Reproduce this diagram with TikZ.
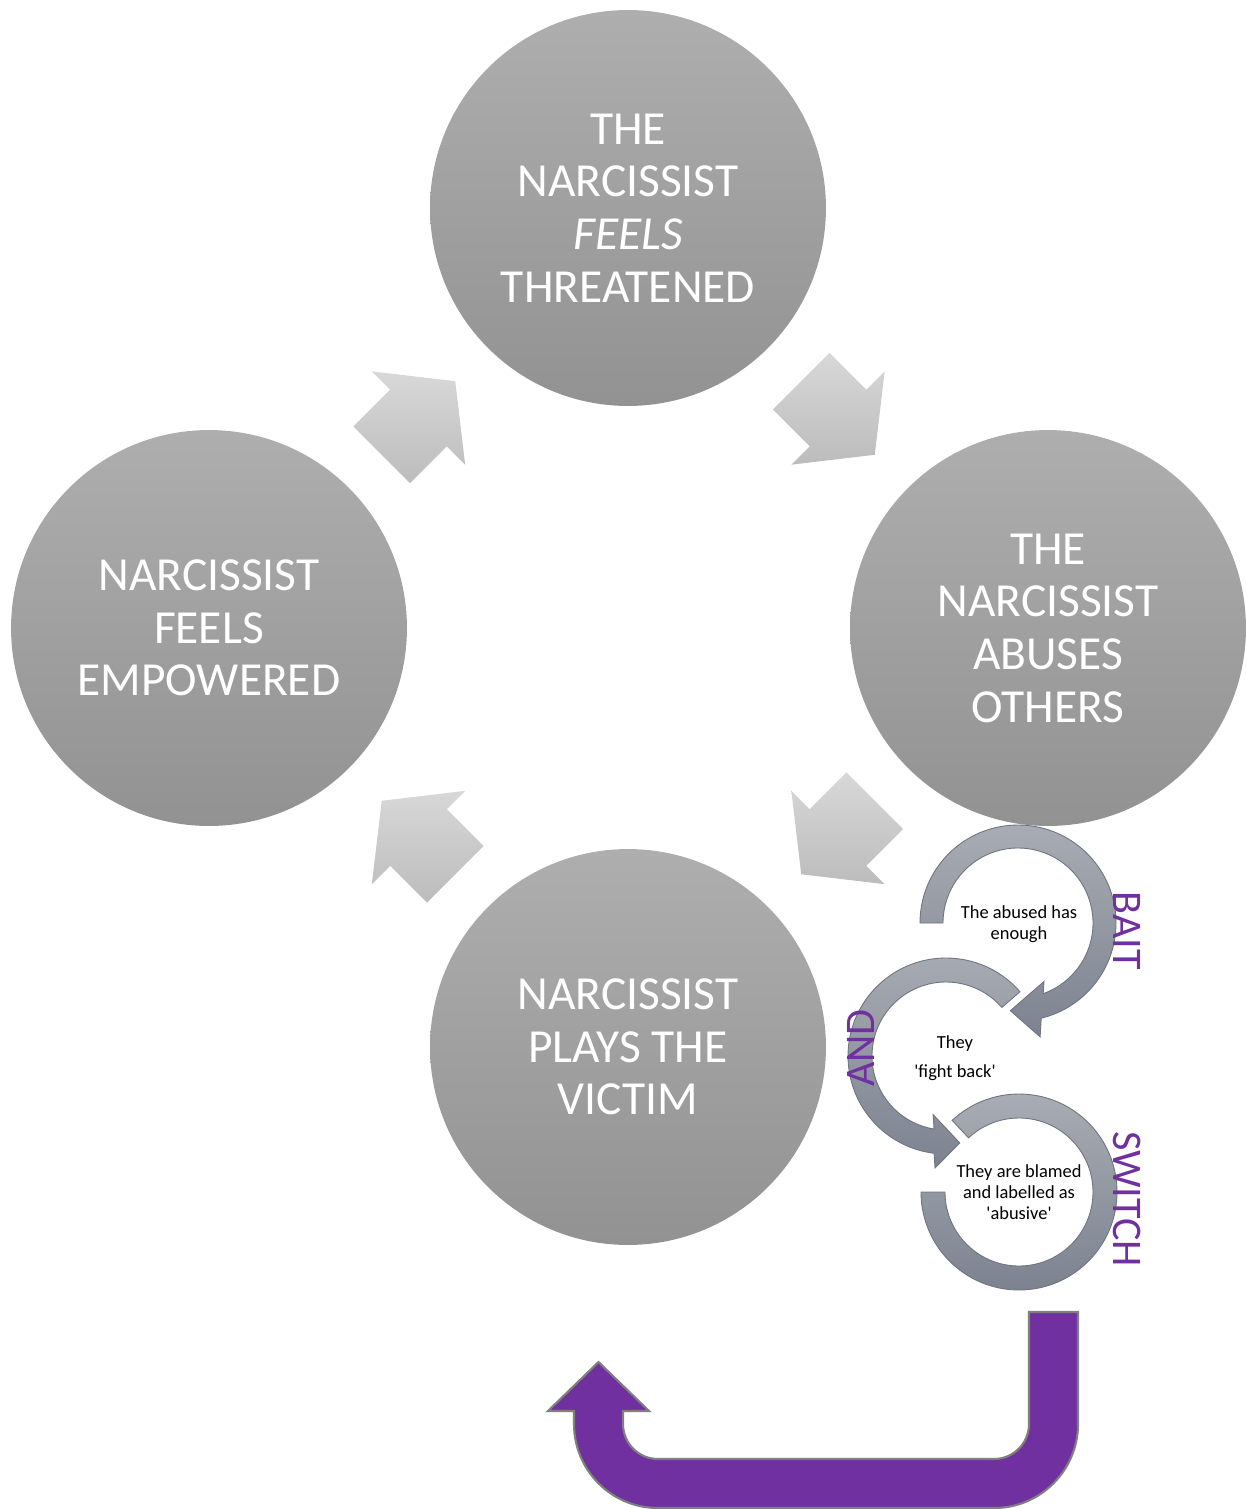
\documentclass[tikz,border=0pt]{standalone}
\usepackage{fontspec}
\setmainfont{Carlito}
\usetikzlibrary{calc}

\definecolor{bubtop}{HTML}{AEAEAE}
\definecolor{bubbot}{HTML}{929292}
\definecolor{flowtop}{HTML}{D8D8D8}
\definecolor{flowbot}{HTML}{BCBCBC}
\definecolor{ringtop}{HTML}{A8ACB3}
\definecolor{ringbot}{HTML}{7C8390}
\definecolor{ringline}{HTML}{6E7580}
\definecolor{tagpurple}{HTML}{7030A0}
\definecolor{uline}{HTML}{7F7F7F}

\begin{document}
\begin{tikzpicture}[x=0.02cm, y=0.02cm,
    bubble/.style={circle, minimum size=7.92cm, inner sep=0pt,
                   top color=bubtop, bottom color=bubbot, text=white,
                   align=center, font=\fontsize{27}{30}\selectfont},
    flowshade/.style={top color=flowtop, bottom color=flowbot},
    flowarr/.pic={
      \path[flowshade] (-52,-40) -- (0,-40) -- (0,-66) -- (52,0)
        -- (0,66) -- (0,40) -- (-52,40) -- cycle;
    },
    ringarr/.style={top color=ringtop, bottom color=ringbot,
                    draw=ringline, line width=0.5pt},
    ringtext/.style={align=center, font=\fontsize{10.5}{12}\selectfont},
    tag/.style={text=tagpurple, inner sep=0pt,
                font=\fontsize{24}{24}\selectfont},
    uturn/.style={fill=tagpurple, draw=uline, line width=1.2pt},
  ]
  \useasboundingbox (0,0) rectangle (1247,-1509);

  % the four stages
  \node[bubble] (threat) at (628,-208)
    {THE\\NARCISSIST\\\textit{FEELS}\\THREATENED};
  \node[bubble] (abuse) at (1048,-628)
    {THE\\NARCISSIST\\ABUSES\\OTHERS};
  \node[bubble] (victim) at (628,-1047)
    {NARCISSIST\\PLAYS THE\\VICTIM};
  \node[bubble] (empower) at (209,-628)
    {NARCISSIST\\FEELS\\EMPOWERED};

  % arrows between them
  \pic[rotate=-45] at ($(threat)!0.5!(abuse)$) {flowarr};
  \pic[rotate=-135] at ($(abuse)!0.5!(victim)$) {flowarr};
  \pic[rotate=135] at ($(victim)!0.5!(empower)$) {flowarr};
  \pic[rotate=45] at ($(empower)!0.5!(threat)$) {flowarr};

  % bait and switch rings
  \coordinate (r1) at (1018,-923);
  \coordinate (r2) at (946,-1056);
  \coordinate (r3) at (1019,-1192);
  \path[ringarr] ($(r1)+(180:98)$) arc[start angle=180, end angle=-76.3, radius=98]
    -- ($(r1)+(-79:116)$) -- ($(r1)+(-95:88)$) -- ($(r1)+(-66:64)$)
    -- ($(r1)+(-70.4:75)$) arc[start angle=-70.4, end angle=180, radius=75] -- cycle;
  \path[ringarr] ($(r2)+(41:98)$) arc[start angle=41, end angle=263, radius=98]
    -- ($(r2)+(264.4:112.5)$) -- ($(r2)+(279:88)$) -- ($(r2)+(257.6:60)$)
    -- ($(r2)+(260.7:74)$) arc[start angle=260.7, end angle=41, radius=74] -- cycle;
  \path[ringarr] ($(r3)+(180:98)$) arc[start angle=180, end angle=493, radius=98]
    -- ($(r3)+(133:74)$) arc[start angle=493, end angle=180, radius=74] -- cycle;

  \node[ringtext] (enough) at (1019,-924) {The abused has\\enough};
  \node[ringtext] (fight) at (955,-1058)
    {They\\[4.5pt]\textquotesingle fight back\textquotesingle};
  \node[ringtext] (blamed) at (1019,-1192)
    {They are blamed\\and labelled as\\\textquotesingle abusive\textquotesingle};

  \node[tag, rotate=-90] (bait) at (1127,-931) {BAIT};
  \node[tag, rotate=90] (and) at (861,-1048) {AND};
  \node[tag, rotate=-90] (switch) at (1127,-1199) {SWITCH};

  % back to the victim
  \path[uturn] (1078,-1312) -- (1078,-1424) arc[start angle=0, end angle=-90, radius=84]
    -- (658,-1508) arc[start angle=-90, end angle=-180, radius=84]
    -- (574,-1411) -- (548,-1411) -- (598.5,-1362) -- (649,-1411) -- (623,-1411)
    -- (623,-1424) arc[start angle=180, end angle=270, radius=35]
    -- (994,-1459) arc[start angle=270, end angle=360, radius=35]
    -- (1029,-1312) -- cycle;
\end{tikzpicture}
\end{document}
